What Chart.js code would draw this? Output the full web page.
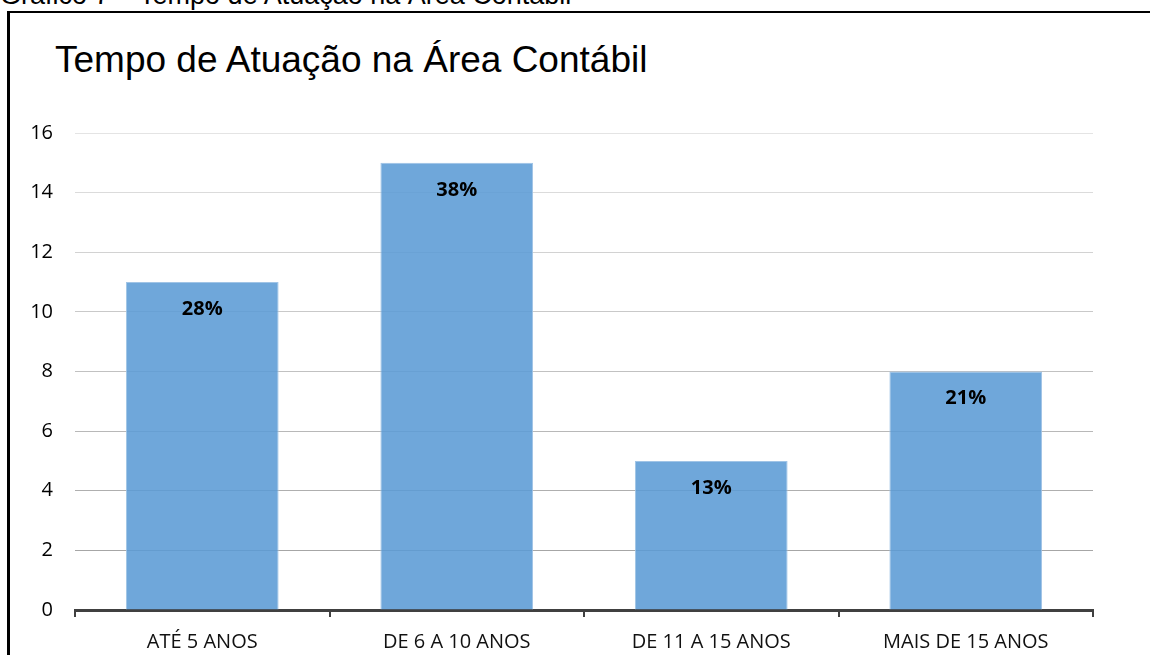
<!DOCTYPE html>
<html>
<head>
<meta charset="utf-8">
<script src="https://cdn.jsdelivr.net/npm/chart.js@4"></script>
<style>
  html, body { margin: 0; width: 1150px; height: 655px; overflow: hidden; background: #fff; }
  body { position: relative; }
  #caption { position: absolute; left: 0; top: -18px; font: 27px/26px "Liberation Sans", Arial, sans-serif; color: #000; white-space: nowrap; }
  #box { position: absolute; left: 7px; top: 11px; width: 1143px; height: 644px; border-left: 3px solid #000; border-top: 2px solid #000; }
  #title { position: absolute; left: 55px; top: 42px; font: 37px/36px "Liberation Sans", Arial, sans-serif; color: #000; white-space: nowrap; }
  canvas { position: absolute; left: 0; top: 0; }
</style>
</head>
<body>
<div id="caption">Gráfico 7 – Tempo de Atuação na Área Contábil</div>
<div id="box"></div>
<div id="title">Tempo de Atuação na Área Contábil</div>
<canvas id="myChart" width="1150" height="655"></canvas>
<script>
const categories = ['ATÉ 5 ANOS', 'DE 6 A 10 ANOS', 'DE 11 A 15 ANOS', 'MAIS DE 15 ANOS'];
const respondents = [11, 15, 5, 8];
const percentLabels = ['28%', '38%', '13%', '21%'];
const yTicks = [0, 2, 4, 6, 8, 10, 12, 14, 16];

// percentages written just below the top of each bar
const barLabels = {
  id: 'barLabels',
  afterDatasetsDraw(chart) {
    const ctx = chart.ctx;
    const meta = chart.getDatasetMeta(0);
    ctx.save();
    ctx.font = 'bold 20px "Open Sans", sans-serif';
    ctx.fillStyle = '#000';
    ctx.textAlign = 'center';
    ctx.textBaseline = 'middle';
    meta.data.forEach((bar, i) => {
      ctx.fillText(percentLabels[i], bar.x, bar.y + 27);
    });
    ctx.restore();
  }
};

// grid lines get lighter towards the top
function gridColor(c) {
  const v = c.tick ? c.tick.value : 0;
  const g = Math.round(166 + (228 - 166) * (v - 2) / 14);
  return 'rgb(' + g + ',' + g + ',' + g + ')';
}

const ctx = document.getElementById('myChart').getContext('2d');
new Chart(ctx, {
  type: 'bar',
  data: {
    labels: categories,
    datasets: [{
      data: respondents,
      backgroundColor: 'rgba(91,155,213,0.88)',
      borderColor: 'rgba(160,196,230,1)',
      borderWidth: 1,
      barPercentage: 0.6,
      categoryPercentage: 1
    }]
  },
  options: {
    responsive: false,
    animation: false,
    layout: { padding: { left: 30, right: 57, top: 133, bottom: -12 } },
    plugins: {
      legend: { display: false },
      title: { display: false },
      tooltip: { enabled: false }
    },
    scales: {
      x: {
        grid: { display: true, drawOnChartArea: false, drawTicks: true, tickLength: 7, color: '#404040', lineWidth: 2 },
        border: { display: true, color: '#404040', width: 3 },
        ticks: { color: '#111', padding: 13, font: { family: 'Open Sans', size: 20 } }
      },
      y: {
        min: 0,
        max: 16,
        afterBuildTicks(scale) { scale.ticks = yTicks.map(v => ({ value: v })); },
        afterFit(scale) { scale.width = 45; },
        grid: { drawTicks: false, color: gridColor, lineWidth: 1 },
        border: { display: false },
        ticks: { color: '#000', padding: 22, font: { family: 'Open Sans', size: 20 } }
      }
    }
  },
  plugins: [barLabels]
});
</script>
</body>
</html>
